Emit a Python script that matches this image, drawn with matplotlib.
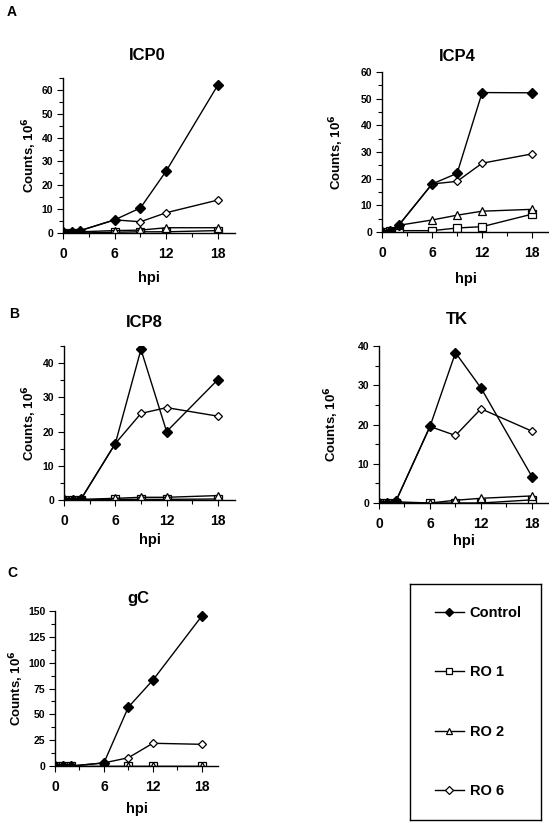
import matplotlib
matplotlib.use("Agg")
import matplotlib.pyplot as plt
from matplotlib.ticker import MultipleLocator

plt.rcParams["font.family"] = ["Liberation Sans", "DejaVu Sans"]
plt.rcParams["font.weight"] = "bold"

# hours post infection
hpi = [0, 1, 2, 6, 9, 12, 18]

# counts, 10^6
icp0_control = [0.5, 0.3, 1.0, 5.5, 10.5, 26.0, 62.0]
icp0_ro1 = [0.0, 0.0, 0.0, 0.3, 0.5, 0.5, 1.0]
icp0_ro2 = [0.0, 0.0, 0.5, 1.0, 1.2, 2.2, 2.2]
icp0_ro6 = [0.5, 0.3, 1.0, 5.5, 4.7, 8.5, 13.8]

icp4_control = [0.0, 0.5, 2.5, 18.0, 22.0, 52.3, 52.2]
icp4_ro1 = [0.0, 0.5, 0.5, 0.5, 1.5, 2.0, 6.7]
icp4_ro2 = [0.0, 0.5, 2.5, 4.5, 6.3, 7.8, 8.5]
icp4_ro6 = [0.0, 0.5, 2.5, 18.0, 19.0, 25.8, 29.3]

icp8_control = [0.0, 0.0, 0.3, 16.5, 44.0, 20.0, 35.2]
icp8_ro1 = [0.0, 0.0, 0.0, 0.2, 0.2, 0.2, 0.3]
icp8_ro2 = [0.0, 0.0, 0.2, 0.5, 0.8, 0.8, 1.3]
icp8_ro6 = [0.0, 0.0, 0.3, 16.5, 25.3, 27.0, 24.5]

tk_control = [0.0, 0.0, 0.5, 19.5, 38.3, 29.3, 6.7]
tk_ro1 = [0.0, 0.0, 0.0, 0.0, 0.0, 0.0, 0.8]
tk_ro2 = [0.0, 0.0, 0.3, 0.0, 0.7, 1.2, 1.8]
tk_ro6 = [0.0, 0.0, 0.5, 19.5, 17.2, 24.0, 18.3]

gc_control = [0.0, 0.0, 0.0, 3.0, 57.0, 83.0, 145.0]
gc_ro1 = [0.0, 0.0, 0.0, 0.0, 0.0, 0.0, 0.0]
gc_ro2 = [0.0, 0.0, 0.0, 0.0, 0.0, 0.0, 0.0]
gc_ro6 = [0.0, 0.0, 0.0, 3.0, 8.0, 22.0, 21.0]

series_names = ["Control", "RO 1", "RO 2", "RO 6"]
x_ticks = [0, 6, 12, 18]

fig = plt.figure(figsize=(5.49, 8.25), dpi=100)


def draw_panel(rect, title, data, ymax, ystep, title_x, title_pad, ylab_x, xlab_pad):
    ax = fig.add_axes(rect)
    control, ro1, ro2, ro6 = data
    ax.plot(hpi, ro1, color="black", lw=1.0, marker="s", ms=5.5,
            mfc="white", mec="black", mew=0.9)
    ax.plot(hpi, ro2, color="black", lw=1.0, marker="^", ms=5.5,
            mfc="white", mec="black", mew=0.9)
    ax.plot(hpi, ro6, color="black", lw=1.0, marker="D", ms=4.5,
            mfc="white", mec="black", mew=0.9)
    ax.plot(hpi, control, color="black", lw=1.0, marker="D", ms=5.5,
            mfc="black", mec="black")
    ax.set_xlim(0, 20)
    ax.set_ylim(0, ymax)
    ax.spines["top"].set_visible(False)
    ax.spines["right"].set_visible(False)
    ax.spines["left"].set_linewidth(1.0)
    ax.spines["bottom"].set_linewidth(1.0)
    ax.set_xticks(x_ticks)
    ax.xaxis.set_minor_locator(MultipleLocator(3))
    ax.yaxis.set_major_locator(MultipleLocator(ystep))
    ax.yaxis.set_minor_locator(MultipleLocator(ystep / 2))
    ax.tick_params(axis="x", labelsize=10, length=4, width=0.8, pad=6)
    ax.tick_params(axis="y", labelsize=7.5, length=4, width=0.8, pad=3)
    ax.tick_params(which="minor", length=3, width=0.8)
    for lab in ax.get_xticklabels() + ax.get_yticklabels():
        lab.set_fontweight("bold")
    ax.set_title(title, fontsize=12, fontweight="bold", x=title_x, pad=title_pad)
    ax.set_ylabel("Counts, 10$^{6}$", fontsize=9.5, fontweight="bold")
    ax.yaxis.set_label_coords(ylab_x, 0.5)
    ax.set_xlabel("hpi", fontsize=10.5, fontweight="bold", labelpad=xlab_pad)
    return ax


ax0 = draw_panel([0.1148, 0.7176, 0.3133, 0.1879], "ICP0",
                 [icp0_control, icp0_ro1, icp0_ro2, icp0_ro6],
                 65, 10, 0.49, 13, -0.14, 7)
ax1 = draw_panel([0.6958, 0.7188, 0.3040, 0.1939], "ICP4",
                 [icp4_control, icp4_ro1, icp4_ro2, icp4_ro6],
                 60, 10, 0.45, 8, -0.218, 9)
ax2 = draw_panel([0.1166, 0.3939, 0.3115, 0.1867], "ICP8",
                 [icp8_control, icp8_ro1, icp8_ro2, icp8_ro6],
                 45, 10, 0.47, 14, -0.146, 4)
ax3 = draw_panel([0.6903, 0.3903, 0.3097, 0.1903], "TK",
                 [tk_control, tk_ro1, tk_ro2, tk_ro6],
                 40, 10, 0.46, 16, -0.225, 2)
ax4 = draw_panel([0.1002, 0.0715, 0.2969, 0.1879], "gC",
                 [gc_control, gc_ro1, gc_ro2, gc_ro6],
                 150, 25, 0.51, 6, -0.178, 6)

fig.text(0.012, 0.985, "A", fontsize=10, fontweight="bold", va="center")
fig.text(0.016, 0.620, "B", fontsize=10, fontweight="bold", va="center")
fig.text(0.014, 0.306, "C", fontsize=10, fontweight="bold", va="center")

# legend box
leg_ax = fig.add_axes([410 / 549, 1 - 820 / 825, 131 / 549, 236 / 825])
leg_ax.set_xticks([])
leg_ax.set_yticks([])
for sp in leg_ax.spines.values():
    sp.set_linewidth(1.0)
handles = [ax4.lines[3], ax4.lines[0], ax4.lines[1], ax4.lines[2]]
leg = leg_ax.legend(handles, series_names, loc="center", frameon=False,
                    fontsize=10.5, labelspacing=3.1, handlelength=2.0,
                    handletextpad=0.4, markerscale=0.8,
                    bbox_to_anchor=(0.52, 0.5))
for t in leg.get_texts():
    t.set_fontweight("bold")

fig.savefig("out.png", dpi=100)
